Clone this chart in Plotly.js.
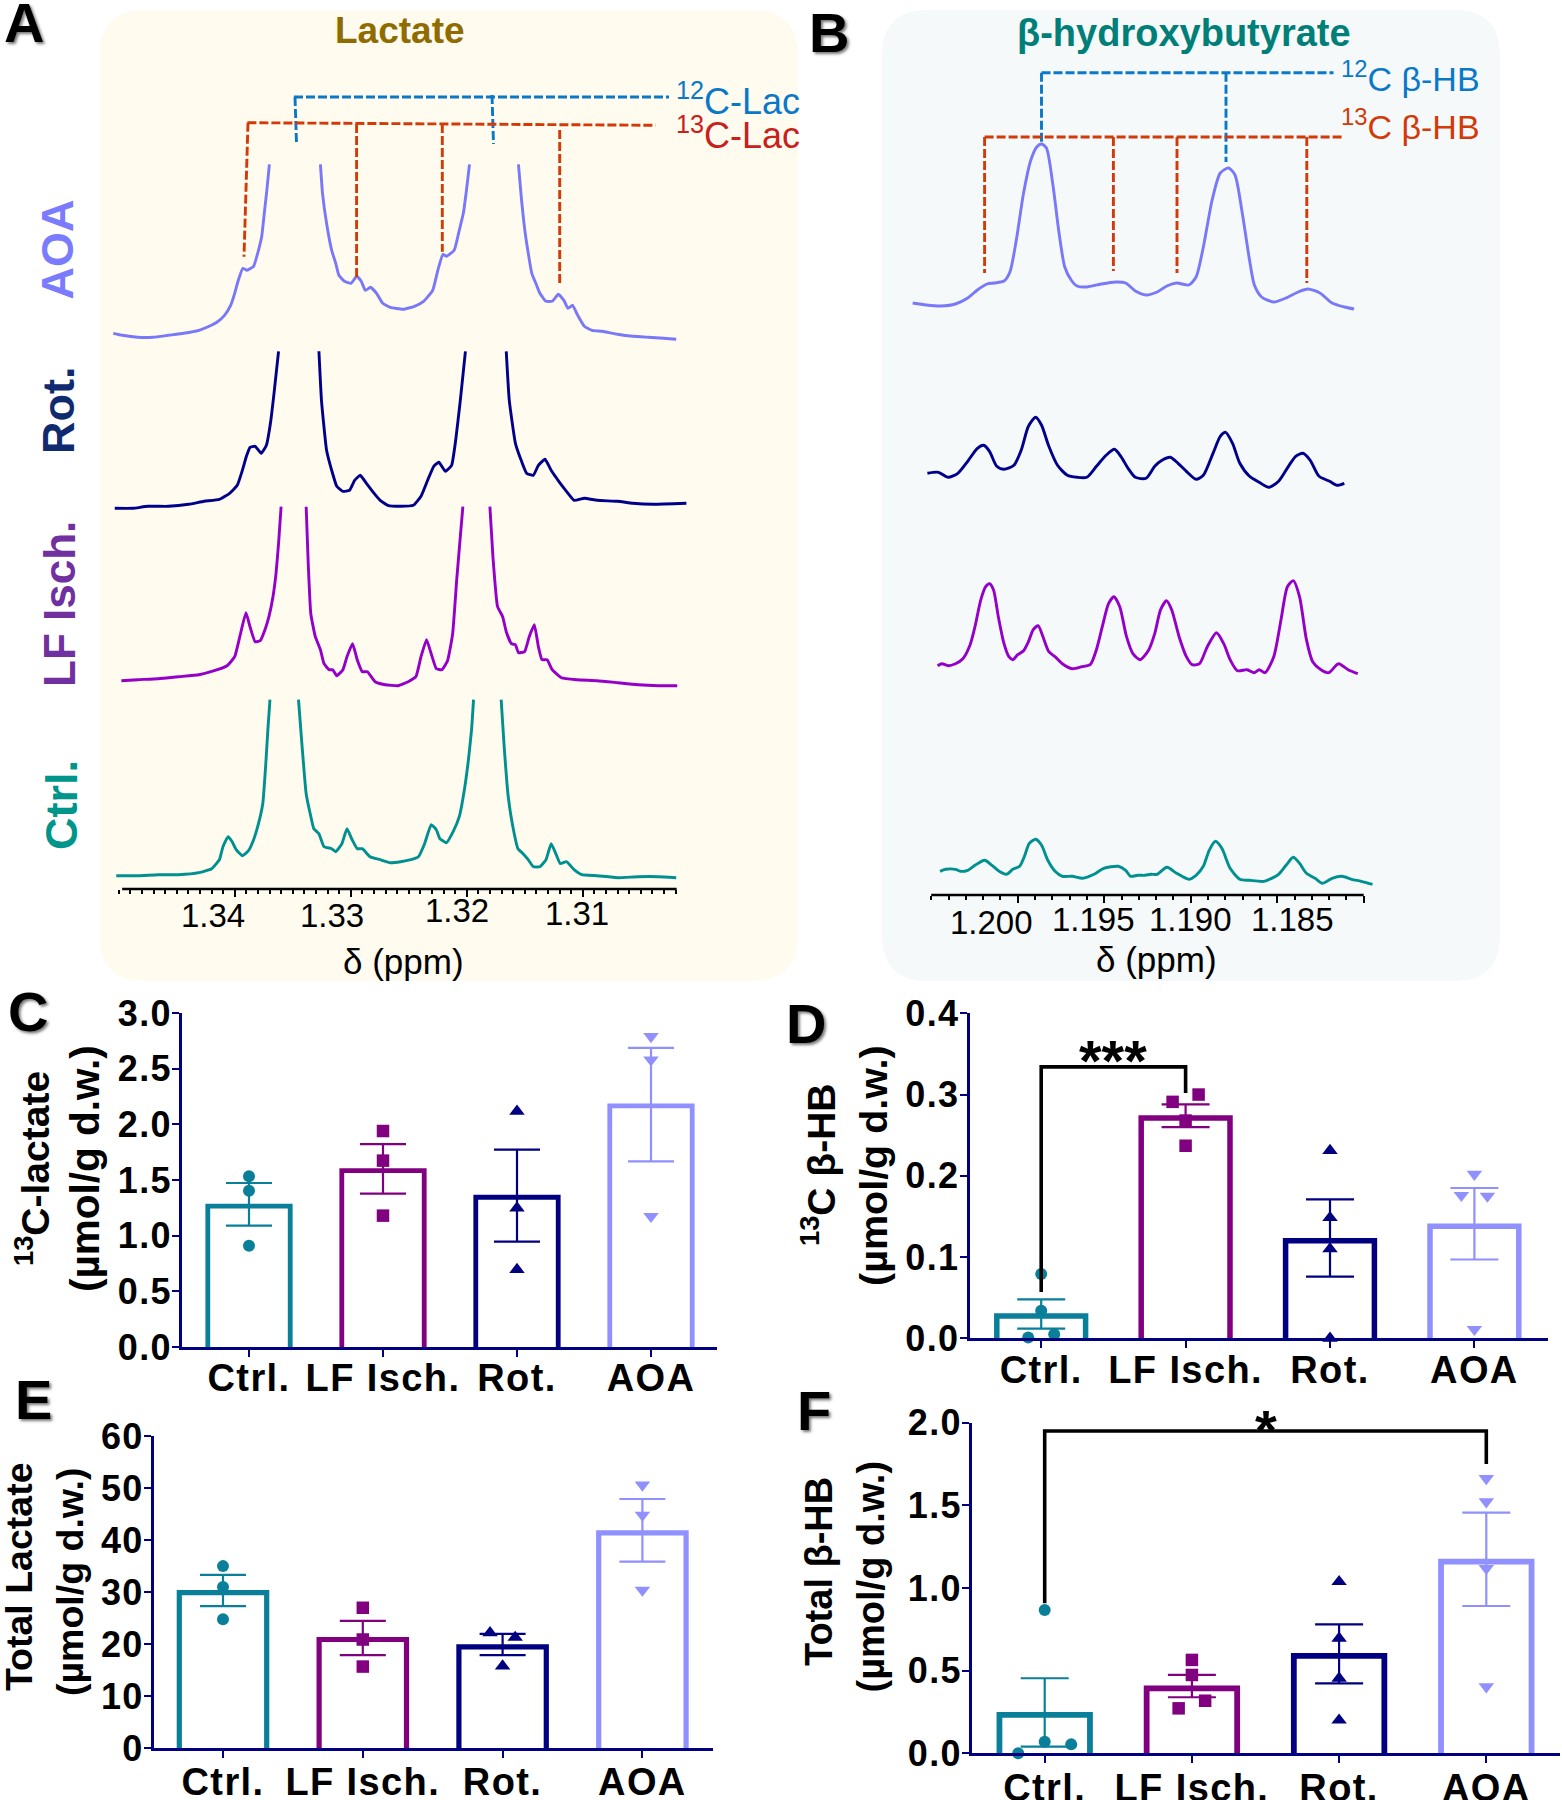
<!DOCTYPE html>
<html><head><meta charset="utf-8">
<script src="https://cdn.plot.ly/plotly-3.0.1.min.js"></script>
<style>html,body{margin:0;padding:0;background:#fff}
g[class*="tick"] text{letter-spacing:1.4px}</style></head>
<body><div id="chart" style="width:1562px;height:1800px"></div>
<script>
const W=1562,H=1800;
const FONT='"Liberation Sans",Arial,sans-serif';
const colCtrl='#0a7f99',colLF='#800080',colRot='#000080',colAOA='#9090ff';
const specAOA='#7878f8',specRot='#00008b',specLF='#9400c8',specCtrl='#009090';

/* ---------- Panel A: lactate spectra (ppm, intensity above own baseline) ---------- */
const aPpmAOA=[1.35047,1.34968,1.34836,1.34704,1.34572,1.3444,1.34308,1.3422,1.34154,1.34088,1.34035,1.34,1.33969,1.3393,1.33894,1.33837,1.33802,1.33767,1.33745,1.33723,1.33701,null,
1.33261,1.33243,1.33208,1.33164,1.33129,1.33102,1.33054,1.32997,1.32948,1.32909,1.32874,1.3283,1.32777,1.32724,1.32658,1.32548,1.32451,1.32372,1.32293,1.32249,1.32205,1.32174,1.32108,1.32064,1.32029,1.32002,1.31976,null,
1.31554,1.31527,1.31492,1.31439,1.31404,1.31369,1.31316,1.31263,1.3121,1.31162,1.31127,1.31087,1.31043,1.30986,1.3092,1.30832,1.307,1.30568,1.30436,1.30304,1.30194];
const aIntAOA=[4,2,0,0,2,4,7,11,15,22,32,44,57,69,67,71,84,101,124,147,173,null,
173,144,114,87,74,62,56,54,61,56,47,50,44,34,30,28,31,36,47,67,83,81,87,107,124,147,173,null,
173,137,101,64,54,44,36,36,43,37,29,32,22,11,7,6,3,1,0,-1,-2];
const aPpmRot=[1.35034,1.3488,1.34748,1.34572,1.34396,1.34264,1.34132,1.34044,1.33978,1.33934,1.33899,1.33868,1.33824,1.33771,1.33727,1.33692,1.33661,1.33622,null,
1.33274,1.33252,1.33208,1.33164,1.3312,1.33067,1.3301,1.32966,1.32918,1.32865,1.32812,1.32746,1.3268,1.3257,1.3246,1.32394,1.32337,1.32284,1.3224,1.32183,1.3213,1.32095,1.32055,1.32011,null,
1.31659,1.31633,1.3158,1.31527,1.31483,1.31426,1.31382,1.31325,1.31272,1.31206,1.3114,1.31074,1.30986,1.30876,1.307,1.30568,1.30392,1.30106];
const aIntRot=[0,0,2,2,4,7,9,15,23,38,52,61,62,55,63,85,115,157,null,
157,108,58,38,22,17,18,28,33,25,17,8,3,2,3,12,28,42,46,37,43,68,108,157,null,
157,108,65,47,35,33,43,49,38,27,17,8,10,8,7,5,4,5];
const aPpmLF=[1.34977,1.34836,1.3466,1.34484,1.34308,1.34176,1.34066,1.34,1.33956,1.33903,1.33868,1.33824,1.3378,1.33736,1.33705,1.3367,1.33644,1.33622,1.336,null,
1.33384,1.33366,1.33344,1.33305,1.33261,1.3323,1.33186,1.33155,1.3312,1.33067,1.33032,1.32984,1.32944,1.329,1.32856,1.3279,1.32702,1.32592,1.32504,1.32438,1.32394,1.32346,1.32306,1.32262,1.32214,1.32165,1.32121,1.32086,1.32055,1.32033,null,
1.318,1.31774,1.31734,1.3169,1.31659,1.31615,1.3158,1.31554,1.31501,1.31461,1.31417,1.31382,1.31351,1.31307,1.31263,1.31184,1.31052,1.30876,1.307,1.30524,1.30348,1.30185];
const aIntLF=[5,6,7,9,11,15,20,29,49,73,59,44,45,57,69,89,112,142,179,null,
179,122,72,49,36,22,16,16,10,16,29,42,26,14,14,4,1,0,4,9,29,46,32,17,16,25,52,106,149,179,null,
179,129,79,69,54,42,41,33,34,49,61,39,26,26,16,8,6,5,3,1,0,0];
const aPpmCtrl=[1.35021,1.34836,1.3466,1.34484,1.34308,1.34198,1.34132,1.34101,1.34057,1.34022,1.33987,1.33934,1.33881,1.33837,1.33802,1.33758,1.33732,1.33714,1.33696,null,
1.3345,1.33419,1.33384,1.33349,1.33318,1.33274,1.3323,1.33164,1.33129,1.33076,1.33032,1.32988,1.32944,1.329,1.32834,1.32746,1.32658,1.3257,1.32482,1.32416,1.32363,1.32306,1.32262,1.32231,1.32174,1.32117,1.32064,1.3202,1.31985,1.31958,1.31941,null,
1.31703,1.31677,1.31642,1.31602,1.31558,1.31514,1.3147,1.31426,1.31369,1.31316,1.31272,1.31228,1.31193,1.3114,1.31074,1.31008,1.30876,1.307,1.30524,1.30348,1.30194];
const aIntCtrl=[1,1,2,2,4,8,17,30,40,35,27,21,26,37,50,73,113,147,177,null,
177,130,83,63,48,43,30,28,25,33,48,37,28,28,20,17,14,15,17,20,33,52,47,38,34,45,60,87,117,147,177,null,
177,130,80,50,28,23,17,10,10,17,33,22,13,15,7,2,1,-1,0,0,-1];
const aOffsets=[551.7,380.7,203.3,12.3];
const aTicks=[1.34,1.33,1.32,1.31];

/* ---------- Panel B: beta-hydroxybutyrate spectra ---------- */
const bPpmAOA=[1.20607,1.20528,1.20444,1.2036,1.20289,1.20233,1.20177,1.20135,1.20079,1.20045,1.20008,1.19966,1.19924,1.1989,1.19862,1.19834,1.19798,1.19761,1.19728,1.19691,1.19657,1.19601,1.19517,1.19433,1.19376,1.1932,1.19258,1.19194,1.19138,1.19081,1.19011,1.18969,1.18927,1.18876,1.18829,1.18781,1.18744,1.18702,1.1866,1.18632,1.1859,1.1852,1.18449,1.18379,1.18323,1.18253,1.18183,1.18112,1.18056];
const bIntAOA=[2,0,-1,1,7,15,21,22,24,33,65,112,145,158,161,157,122,72,38,25,19,18,21,23,22,14,10,13,19,22,20,28,58,105,132,137,130,92,45,20,8,3,7,13,16,12,2,-2,-4];
const bPpmRot=[1.20522,1.20458,1.20402,1.20346,1.20289,1.20233,1.20197,1.20163,1.20121,1.20079,1.20022,1.1998,1.19938,1.19896,1.19862,1.1982,1.1977,1.19713,1.19657,1.19601,1.19545,1.19489,1.19441,1.19404,1.19362,1.1932,1.19258,1.19208,1.19166,1.19118,1.19073,1.19025,1.18969,1.18927,1.18871,1.18829,1.18798,1.18758,1.18716,1.1866,1.18604,1.18548,1.18492,1.18435,1.18393,1.18351,1.18309,1.18258,1.18197,1.18154,1.18112];
const bIntRot=[5,6,1,5,17,30,33,27,12,9,13,28,52,61,53,32,13,3,1,1,12,23,29,22,10,1,0,12,18,21,15,7,-1,3,25,42,46,35,15,2,-4,-9,-3,12,22,25,18,2,-3,-7,-5];
const bPpmLF=[1.20463,1.20438,1.20402,1.2036,1.20317,1.20275,1.20247,1.20213,1.20185,1.20163,1.2014,1.20112,1.20079,1.20051,1.20028,1.2,1.19966,1.19938,1.1991,1.19882,1.19854,1.1982,1.19784,1.19742,1.19685,1.19629,1.19581,1.19545,1.19511,1.19475,1.19444,1.1941,1.19371,1.19334,1.19292,1.19242,1.19208,1.19174,1.1914,1.1911,1.19067,1.19025,1.18992,1.18949,1.18904,1.18851,1.18809,1.18772,1.1873,1.18674,1.18632,1.18604,1.1857,1.1852,1.18478,1.18441,1.18407,1.18371,1.18331,1.18295,1.18247,1.18202,1.18146,1.1809,1.18034];
const bIntLF=[7,9,7,9,14,28,46,73,86,89,83,56,29,16,13,18,22,31,43,47,36,21,16,9,4,6,8,23,46,69,76,66,36,19,13,23,39,63,72,63,36,16,8,9,26,40,29,13,2,3,0,3,0,16,53,86,92,76,33,11,3,0,9,3,-1];
const bPpmCtrl=[1.20449,1.20416,1.2036,1.20331,1.20289,1.20247,1.20191,1.20149,1.20107,1.20065,1.20028,1.19989,1.19961,1.19933,1.19896,1.19862,1.19826,1.19784,1.19742,1.19685,1.19624,1.19559,1.19503,1.19419,1.19376,1.19348,1.19306,1.19264,1.1923,1.19194,1.19138,1.19081,1.19011,1.18969,1.18927,1.18893,1.18857,1.1882,1.18772,1.18716,1.1866,1.18576,1.18492,1.18449,1.18407,1.18371,1.18331,1.18281,1.18239,1.18183,1.18126,1.1807,1.18014,1.17949];
const bIntCtrl=[7,9,9,7,8,13,18,13,7,4,9,12,22,35,39,33,18,7,2,2,0,4,10,12,8,2,3,3,4,4,11,5,-1,3,12,28,37,30,10,-1,-2,-3,4,13,21,15,5,0,-5,0,2,-1,-3,-6];
const bOffsets=[590,416.7,222.3,16.7];
const bTicks=[1.200,1.195,1.190,1.185];

/* ---------- Panels C-F: bar values ---------- */
const categories=['Ctrl.','LF Isch.','Rot.','AOA'];
const cMeans=[1.265,1.585,1.345,2.165], cHigh=[1.473,1.823,1.772,2.686], cLow=[1.09,1.377,0.946,1.668];
const cPtsCtrl=[1.533,1.404,0.91], cPtsLF=[1.94,1.674,1.18], cPtsRot=[2.117,1.248,0.695], cPtsAOA=[2.79,2.58,1.174];
const cTicks=[0,0.5,1,1.5,2,2.5,3], cTickText=['0.0','0.5','1.0','1.5','2.0','2.5','3.0'];

const dMeans=[0.0275,0.271,0.12,0.138], dHigh=[0.048,0.288,0.171,0.185], dLow=[0.012,0.26,0.076,0.097];
const dPtsCtrl=[0.079,0.034,0.001,0.005], dPtsLF=[0.291,0.30,0.268,0.237], dPtsRot=[0.231,0.1485,0.11,0], dPtsAOA=[0.202,0.176,0.175,0.011];
const dTicks=[0,0.1,0.2,0.3,0.4], dTickText=['0.0','0.1','0.2','0.3','0.4'];

const eMeans=[29.9,20.9,19.5,41.4], eHigh=[33.3,24.5,22,47.9], eLow=[27.3,17.9,17.9,35.85];
const ePtsCtrl=[35,31,24.8], ePtsLF=[27,20.9,15.7], ePtsRot=[22.2,21.3,15.8], ePtsAOA=[50.6,44.8,30.4];
const eTicks=[0,10,20,30,40,50,60], eTickText=['0','10','20','30','40','50','60'];

const fMeans=[0.232,0.393,0.589,1.159], fHigh=[0.454,0.474,0.78,1.456], fLow=[0.04,0.339,0.423,0.891];
const fPtsCtrl=[0.867,0.07,0.054,0], fPtsLF=[0.565,0.474,0.318,0.272], fPtsRot=[1.038,0.696,0.454,0.2], fPtsAOA=[1.663,1.522,1.119,0.403];
const fTicks=[0,0.5,1,1.5,2], fTickText=['0.0','0.5','1.0','1.5','2.0'];

/* horizontal scatter of the dots inside a group (in category units) */
const dJitter=[[0,0,-0.09,0.09],[-0.09,0.09,0,0],[0,0,0,0],[0,-0.09,0.09,0]];
const eJitter=[[0,0,0],[0,0,0],[-0.09,0.09,0],[0,0,0]];
const fJitter=[[0,0,0.18,-0.18],[0,0,0.09,-0.09],[0,0,0,0],[0,0,0,0]];
const noJitter=[[0,0,0],[0,0,0],[0,0,0],[0,0,0]];

/* ---------- helpers ---------- */
const px=x=>x/W, py=y=>1-y/H;
const traces=[],shapes=[],annotations=[];
const layout={width:W,height:H,margin:{l:0,r:0,t:0,b:0},paper_bgcolor:'#fff',plot_bgcolor:'rgba(0,0,0,0)',
  showlegend:false,barmode:'overlay',font:{family:FONT,color:'#000'},shapes,annotations};

function label(text,x,y,size,color,opt){
  opt=opt||{};
  annotations.push(Object.assign({text,xref:'paper',yref:'paper',x:px(x),y:py(y),xanchor:'center',yanchor:'middle',
    showarrow:false,font:{family:FONT,size,color,weight:opt.bold?700:400,shadow:opt.shadow||'none'},textangle:opt.angle||0},opt.extra||{}));
}
function dash(x0,y0,x1,y1,color){
  shapes.push({type:'line',xref:'paper',yref:'paper',x0:px(x0),y0:py(y0),x1:px(x1),y1:py(y1),layer:'above',
    line:{color,width:2.9,dash:'9px,3px'}});
}
function roundRect(l,t,r,b,rad,fill){
  const P=(x,y)=>px(x)+','+py(y);
  const path='M'+P(l+rad,t)+' L'+P(r-rad,t)+' Q'+P(r,t)+' '+P(r,t+rad)+' L'+P(r,b-rad)+' Q'+P(r,b)+' '+P(r-rad,b)+
    ' L'+P(l+rad,b)+' Q'+P(l,b)+' '+P(l,b-rad)+' L'+P(l,t+rad)+' Q'+P(l,t)+' '+P(l+rad,t)+' Z';
  shapes.push({type:'path',xref:'paper',yref:'paper',path,fillcolor:fill,line:{width:0},layer:'below'});
}
function axisIds(n){return n===1?{x:'x',y:'y',xk:'xaxis',yk:'yaxis'}:{x:'x'+n,y:'y'+n,xk:'xaxis'+n,yk:'yaxis'+n};}

function spectra(n,sets,offsets,cfg){
  const id=axisIds(n);
  sets.forEach((s,i)=>{
    traces.push({type:'scatter',mode:'lines',xaxis:id.x,yaxis:id.y,x:s[0],y:s[1].map(v=>v===null?null:v+offsets[i]),
      line:{color:s[2],width:2.9,shape:'spline',smoothing:cfg.smoothing},hoverinfo:'skip'});
  });
  const minorVals=[];
  for(let k=Math.round(cfg.lineFrom*1000);k>=Math.round(cfg.lineTo*1000);k--)minorVals.push(k/1000);
  layout[id.xk]={domain:[px(cfg.left),px(cfg.right)],range:cfg.range,anchor:id.y,showgrid:false,zeroline:false,showline:false,
    tickmode:'array',tickvals:cfg.ticks,ticks:'outside',ticklen:7,tickwidth:2,tickcolor:'#000',showticklabels:false,
    minor:{tickmode:'array',tickvals:minorVals,ticks:'outside',ticklen:4,tickwidth:1.5,tickcolor:'#000',showgrid:false}};
  layout[id.yk]={domain:[py(cfg.axisY),1],range:[0,cfg.axisY],anchor:id.x,visible:false,showgrid:false,zeroline:false};
  shapes.push({type:'line',xref:id.x,yref:'paper',x0:cfg.lineFrom,x1:cfg.lineTo,y0:py(cfg.axisY),y1:py(cfg.axisY),layer:'above',line:{color:'#000',width:2.5}});
}

function barPanel(n,c){
  const id=axisIds(n);
  const cols=[colCtrl,colLF,colRot,colAOA];
  const syms=['circle','square','triangle-up','triangle-down'];
  const sizes=[12,12.5,13.5,13.5];
  const below=c.yMax*0.03; /* the bar's foot sits under the axis so only its sides reach the line */
  categories.forEach((cat,i)=>{
    traces.push({type:'bar',xaxis:id.x,yaxis:id.y,x:[i],y:[c.means[i]+below],base:[-below],width:[c.barW],
      marker:{color:'rgba(255,255,255,0)',line:{color:cols[i],width:c.stroke}},
      error_y:{type:'data',symmetric:false,array:[c.high[i]-c.means[i]],arrayminus:[c.means[i]-c.low[i]],color:cols[i],thickness:2.2,width:c.cap},
      hoverinfo:'skip'});
  });
  categories.forEach((cat,i)=>{
    traces.push({type:'scatter',mode:'markers',xaxis:id.x,yaxis:id.y,x:c.pts[i].map((v,k)=>i+c.jitter[i][k]),y:c.pts[i],cliponaxis:false,
      marker:{symbol:syms[i],size:sizes[i],color:cols[i],line:{width:0}},hoverinfo:'skip'});
  });
  const unit=c.spacing;
  layout[id.xk]={domain:[px(c.left),px(c.right)],range:[(c.left-c.first)/unit,(c.right-c.first)/unit],anchor:id.y,
    showgrid:false,zeroline:false,showline:true,linecolor:'#000080',linewidth:2.5,
    tickmode:'array',tickvals:[0,1,2,3],ticktext:categories,ticks:'outside',ticklen:7,tickwidth:2,tickcolor:'#000080',tickangle:0,
    ticklabelstandoff:c.xStandoff,tickfont:{family:FONT,size:38,color:'#000',weight:700}};
  layout[id.yk]={domain:[py(c.bottom),py(c.top)],range:[0,c.yMax],anchor:id.x,showgrid:false,zeroline:false,showline:true,
    linecolor:'#000080',linewidth:2.5,tickmode:'array',tickvals:c.ticks,ticktext:c.tickText,ticks:'outside',ticklen:7,tickwidth:2,tickcolor:'#000080',
    ticklabelstandoff:-7,tickfont:{family:FONT,size:36,color:'#000',weight:700}};
}
function bracket(n,xs,ys){
  const id=axisIds(n);
  traces.push({type:'scatter',mode:'lines',xaxis:id.x,yaxis:id.y,x:xs,y:ys,cliponaxis:false,line:{color:'#000',width:3.6},hoverinfo:'skip'});
}

/* ---------- panel backgrounds ---------- */
roundRect(99.5,10,798,981,46,'#fffbef');
roundRect(882,10,1500,981,46,'#f5f9fa');

/* ---------- spectra ---------- */
spectra(1,[[aPpmAOA,aIntAOA,specAOA],[aPpmRot,aIntRot,specRot],[aPpmLF,aIntLF,specLF],[aPpmCtrl,aIntCtrl,specCtrl]],aOffsets,
  {left:112.9,right:692.9,range:[1.3505,1.3005],axisY:889,ticks:aTicks,lineFrom:1.3497,lineTo:1.3019,smoothing:0.4});
spectra(2,[[bPpmAOA,bIntAOA,specAOA],[bPpmRot,bIntRot,specRot],[bPpmLF,bIntLF,specLF],[bPpmCtrl,bIntCtrl,specCtrl]],bOffsets,
  {left:905.25,right:1381,range:[1.2065,1.179],axisY:895,ticks:bTicks.concat([1.18]),lineFrom:1.205,lineTo:1.18,smoothing:0.7});

/* ---------- guide lines ---------- */
const blue='#0a78c8',red='#d23a08';
dash(294,97,669,97,blue);dash(295,97,296.5,143,blue);dash(492,95,493.5,144,blue);
dash(247.4,122.7,655.6,125.3,red);dash(248,122.7,244,256.7,red);dash(356.6,124,356.6,277,red);dash(442.3,124,442.3,251.7,red);dash(559.7,130,559.7,283,red);
dash(1041.5,72.7,1333.5,72.7,blue);dash(1041.5,72.7,1041.5,143,blue);dash(1226,72.7,1226,162,blue);
dash(984.6,137,1342.8,137,red);dash(984.6,137,984.6,273,red);dash(1113.4,137,1113.4,271,red);dash(1177,137,1177,273,red);dash(1306.8,137,1306.8,283,red);

/* ---------- bar panels ---------- */
barPanel(3,{means:cMeans,high:cHigh,low:cLow,pts:[cPtsCtrl,cPtsLF,cPtsRot,cPtsAOA],jitter:noJitter,ticks:cTicks,tickText:cTickText,yMax:3,
  left:182,right:717,first:249,spacing:134,bottom:1347,top:1013,barW:0.615,cap:23,stroke:4.8,xStandoff:-11});
barPanel(4,{means:dMeans,high:dHigh,low:dLow,pts:[dPtsCtrl,dPtsLF,dPtsRot,dPtsAOA],jitter:dJitter,ticks:dTicks,tickText:dTickText,yMax:0.4,
  left:969.5,right:1548,first:1041.2,spacing:144.4,bottom:1338.3,top:1013.3,barW:0.615,cap:24,stroke:5.5,xStandoff:-11});
barPanel(5,{means:eMeans,high:eHigh,low:eLow,pts:[ePtsCtrl,ePtsLF,ePtsRot,ePtsAOA],jitter:eJitter,ticks:eTicks,tickText:eTickText,yMax:60,
  left:153.7,right:712.5,first:223,spacing:139.8,bottom:1748.3,top:1436,barW:0.625,cap:23,stroke:5.2,xStandoff:-9});
barPanel(6,{means:fMeans,high:fHigh,low:fLow,pts:[fPtsCtrl,fPtsLF,fPtsRot,fPtsAOA],jitter:fJitter,ticks:fTicks,tickText:fTickText,yMax:2,
  left:972,right:1560,first:1044.7,spacing:147.2,bottom:1753.3,top:1422.7,barW:0.615,cap:24,stroke:5.8,xStandoff:-8});
bracket(4,[0,0,1,1],[0.057,0.334,0.334,0.302]);
bracket(6,[0,0,3,3],[0.907,1.95,1.95,1.75]);
label('***',1113,1060,58,'#000',{bold:true});
label('*',1266,1429,56,'#000',{bold:true});

/* ---------- text ---------- */
const shadow='2px 2px 3px #777';
[['A',24,22],['B',829,32],['C',28,1011],['D',806,1023],['E',33,1399],['F',814,1410]].forEach(l=>label(l[0],l[1],l[2],56,'#000',{bold:true,shadow}));
label('Lactate',399.5,30,37,'#8f6c00',{bold:true});
label('β-hydroxybutyrate',1184,33,38,'#007f78',{bold:true});
label('<sup>12</sup>C-Lac',738,99,36,'#0a78c8');
label('<sup>13</sup>C-Lac',738,133,36,'#c8201a');
label('<sup>12</sup>C β-HB',1410,76,34,'#0a78c8');
label('<sup>13</sup>C β-HB',1410,124,34,'#d23a08');
label('AOA',57.6,250,45,'#7b7bff',{bold:true,angle:-90});
label('Rot.',59,411,45,'#102a6f',{bold:true,angle:-90});
label('LF Isch.',59,604,44,'#7030a0',{bold:true,angle:-90});
label('Ctrl.',62,805,45,'#00958a',{bold:true,angle:-90});
[['1.34',213,915],['1.33',332,915],['1.32',457,911],['1.31',577,913]].forEach(l=>label(l[0],l[1],l[2],33,'#000'));
[['1.200',991,922],['1.195',1093,919],['1.190',1190,919],['1.185',1292,919]].forEach(l=>label(l[0],l[1],l[2],33,'#000'));
label('δ (ppm)',403,961,35,'#000');
label('δ (ppm)',1156,959,35,'#000');
label('<sup>13</sup>C-lactate',32,1169,39,'#000',{bold:true,angle:-90});
label('(µmol/g d.w.)',85,1169,40.5,'#000',{bold:true,angle:-90});
label('<sup>13</sup>C β-HB',818,1165,39,'#000',{bold:true,angle:-90});
label('(µmol/g d.w.)',873,1166,39.5,'#000',{bold:true,angle:-90});
label('Total Lactate',19,1577,37.5,'#000',{bold:true,angle:-90});
label('(µmol/g d.w.)',70,1582,37.5,'#000',{bold:true,angle:-90});
label('Total β-HB',819,1572,38,'#000',{bold:true,angle:-90});
label('(µmol/g d.w.)',870.5,1577,38,'#000',{bold:true,angle:-90});

Plotly.newPlot('chart',traces,layout,{displayModeBar:false,responsive:false});
</script></body></html>
